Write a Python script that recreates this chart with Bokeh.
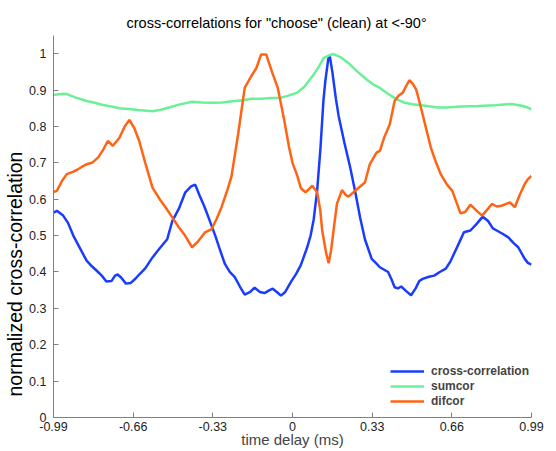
from bokeh.plotting import figure
from bokeh.models import Range1d, FixedTicker, Title
from bokeh.embed import file_html
from bokeh.resources import INLINE

# ---- data -------------------------------------------------------------
x_ticks = [-0.99, -0.66, -0.33, 0, 0.33, 0.66, 0.99]
x_tick_labels = ["-0.99", "-0.66", "-0.33", "0", "0.33", "0.66", "0.99"]
y_ticks = [0, 0.1, 0.2, 0.3, 0.4, 0.5, 0.6, 0.7, 0.8, 0.9, 1.0]
y_tick_labels = ["0", "0.1", "0.2", "0.3", "0.4", "0.5", "0.6", "0.7", "0.8", "0.9", "1"]

xcorr_t = [-0.99, -0.976, -0.95, -0.93, -0.908, -0.88, -0.853, -0.83, -0.812, -0.79,
           -0.771, -0.75, -0.735, -0.724, -0.71, -0.69, -0.67, -0.65, -0.635, -0.61,
           -0.58, -0.55, -0.519, -0.498, -0.47, -0.444, -0.42, -0.403, -0.385, -0.365,
           -0.348, -0.32, -0.30, -0.28, -0.26, -0.239, -0.218, -0.198, -0.175, -0.157,
           -0.135, -0.116, -0.095, -0.082, -0.065, -0.048, -0.03, -0.007, 0.015, 0.034,
           0.061, 0.075, 0.088, 0.102, 0.116, 0.128, 0.136, 0.148, 0.154, 0.165,
           0.18, 0.191, 0.215, 0.239, 0.26, 0.28, 0.30, 0.328, 0.345, 0.362,
           0.396, 0.41, 0.423, 0.437, 0.45, 0.47, 0.491, 0.51, 0.525, 0.539,
           0.565, 0.587, 0.61, 0.635, 0.655, 0.669, 0.69, 0.71, 0.737, 0.76,
           0.788, 0.81, 0.83, 0.846, 0.87, 0.894, 0.915, 0.935, 0.962, 0.975, 0.99]
xcorr_v = [0.563, 0.568, 0.555, 0.535, 0.50, 0.465, 0.431, 0.415, 0.404, 0.39,
           0.374, 0.375, 0.39, 0.393, 0.385, 0.368, 0.37, 0.382, 0.393, 0.41,
           0.44, 0.465, 0.49, 0.54, 0.575, 0.619, 0.635, 0.64, 0.61, 0.58,
           0.55, 0.50, 0.46, 0.422, 0.40, 0.386, 0.36, 0.338, 0.345, 0.357,
           0.345, 0.342, 0.35, 0.354, 0.345, 0.335, 0.345, 0.372, 0.395, 0.418,
           0.468, 0.50, 0.545, 0.623, 0.742, 0.87, 0.925, 0.985, 0.995, 0.95,
           0.875, 0.829, 0.755, 0.687, 0.62, 0.55, 0.49, 0.436, 0.425, 0.413,
           0.40, 0.38, 0.358, 0.355, 0.36, 0.348, 0.336, 0.355, 0.375, 0.381,
           0.387, 0.39, 0.40, 0.409, 0.43, 0.45, 0.48, 0.509, 0.514, 0.53,
           0.552, 0.54, 0.52, 0.514, 0.505, 0.495, 0.48, 0.468, 0.436, 0.425, 0.42]

sumcor_t = [-0.99, -0.976, -0.95, -0.935, -0.9, -0.853, -0.82, -0.785, -0.75, -0.717,
            -0.68, -0.64, -0.58, -0.545, -0.512, -0.47, -0.416, -0.375, -0.335, -0.29,
            -0.239, -0.205, -0.171, -0.13, -0.09, -0.048, -0.02, 0.02, 0.05, 0.088,
            0.11, 0.129, 0.15, 0.17, 0.2, 0.239, 0.27, 0.307, 0.335, 0.362,
            0.395, 0.43, 0.46, 0.498, 0.55, 0.6, 0.635, 0.7, 0.771, 0.84,
            0.907, 0.95, 0.975, 0.99]
sumcor_v = [0.887, 0.888, 0.89, 0.889, 0.88, 0.87, 0.865, 0.859, 0.855, 0.85,
            0.848, 0.845, 0.842, 0.846, 0.852, 0.86, 0.868, 0.866, 0.865, 0.866,
            0.87, 0.872, 0.876, 0.876, 0.878, 0.879, 0.884, 0.893, 0.91, 0.943,
            0.965, 0.988, 0.995, 0.999, 0.99, 0.97, 0.95, 0.929, 0.915, 0.906,
            0.89, 0.875, 0.866, 0.861, 0.857, 0.852, 0.852, 0.855, 0.856, 0.858,
            0.862, 0.857, 0.852, 0.847]

difcor_t = [-0.99, -0.976, -0.955, -0.935, -0.91, -0.887, -0.87, -0.853, -0.83, -0.805,
            -0.785, -0.765, -0.744, -0.717, -0.695, -0.676, -0.655, -0.635, -0.61, -0.58,
            -0.55, -0.526, -0.498, -0.471, -0.445, -0.416, -0.39, -0.362, -0.335, -0.315,
            -0.294, -0.27, -0.253, -0.225, -0.198, -0.171, -0.15, -0.13, -0.109, -0.085,
            -0.061, -0.035, -0.014, 0.0, 0.02, 0.035, 0.054, 0.068, 0.082, 0.102,
            0.115, 0.123, 0.14, 0.15, 0.16, 0.17, 0.184, 0.205, 0.22, 0.232,
            0.259, 0.28, 0.30, 0.32, 0.348, 0.362, 0.38, 0.403, 0.423, 0.44,
            0.457, 0.47, 0.484, 0.498, 0.512, 0.525, 0.539, 0.555, 0.573, 0.595,
            0.614, 0.64, 0.662, 0.68, 0.696, 0.715, 0.737, 0.76, 0.785, 0.805,
            0.826, 0.846, 0.866, 0.885, 0.901, 0.921, 0.94, 0.962, 0.975, 0.99]
difcor_v = [0.62, 0.623, 0.65, 0.669, 0.675, 0.683, 0.69, 0.696, 0.70, 0.715,
            0.735, 0.76, 0.747, 0.769, 0.80, 0.818, 0.795, 0.76, 0.70, 0.632,
            0.60, 0.578, 0.55, 0.523, 0.50, 0.468, 0.485, 0.509, 0.518, 0.545,
            0.578, 0.625, 0.662, 0.78, 0.906, 0.938, 0.96, 0.998, 0.998, 0.95,
            0.906, 0.82, 0.742, 0.70, 0.664, 0.63, 0.619, 0.628, 0.637, 0.619,
            0.57, 0.514, 0.45, 0.424, 0.46, 0.514, 0.587, 0.625, 0.612, 0.607,
            0.623, 0.635, 0.646, 0.696, 0.728, 0.733, 0.77, 0.806, 0.87, 0.885,
            0.893, 0.91, 0.927, 0.918, 0.902, 0.87, 0.833, 0.79, 0.742, 0.70,
            0.669, 0.64, 0.623, 0.59, 0.561, 0.565, 0.585, 0.57, 0.555, 0.57,
            0.587, 0.58, 0.582, 0.587, 0.591, 0.578, 0.61, 0.642, 0.655, 0.664]

FONT = "Liberation Sans"
AXIS_GREY = "#808080"

# ---- figure -----------------------------------------------------------
p = figure(width=556, height=451, output_backend="svg", toolbar_location=None,
           x_range=Range1d(-0.99, 0.99), y_range=Range1d(0, 1.05),
           min_border_left=53, min_border_right=25, min_border_top=35,
           min_border_bottom=34)
p.outline_line_color = None
p.grid.visible = False
p.background_fill_color = "white"
p.border_fill_color = "white"

p.title.text = 'cross-correlations for "choose" (clean) at <-90\u00b0'
p.title.text_font = FONT
p.title.text_font_size = "14.5px"
p.title.text_font_style = "normal"
p.title.text_color = "black"
p.title.align = "left"
p.title.offset = 73

p.line(xcorr_t, xcorr_v, line_color="#1a3cff", line_width=2.5,
       legend_label="cross-correlation")
p.line(sumcor_t, sumcor_v, line_color="#6af096", line_width=2.5,
       legend_label="sumcor")
p.line(difcor_t, difcor_v, line_color="#ff6414", line_width=2.5,
       legend_label="difcor")

# axes
for ax in (p.xaxis[0], p.yaxis[0]):
    ax.axis_line_color = AXIS_GREY
    ax.major_tick_line_color = AXIS_GREY
    ax.major_tick_in = 5
    ax.major_tick_out = 0
    ax.minor_tick_line_color = None
    ax.major_label_text_font = FONT
    ax.major_label_text_font_size = "12.5px"
    ax.major_label_text_color = "#222222"

p.xaxis.ticker = FixedTicker(ticks=x_ticks)
p.xaxis.major_label_overrides = dict(zip(x_ticks, x_tick_labels))
p.xaxis.major_label_standoff = 4
p.xaxis.axis_label = "time delay (ms)"
p.xaxis.axis_label_text_font = FONT
p.xaxis.axis_label_text_font_size = "15px"
p.xaxis.axis_label_text_font_style = "normal"
p.xaxis.axis_label_standoff = -3

p.yaxis.ticker = FixedTicker(ticks=y_ticks)
p.yaxis.major_label_overrides = dict(zip(y_ticks, y_tick_labels))
p.yaxis.major_label_standoff = 7

# vertical axis title, in its own panel to the left of the y axis
p.add_layout(Title(text="normalized cross-correlation", align="left", offset=21,
                   text_font=FONT, text_font_size="19.5px", text_font_style="normal",
                   text_color="black", standoff=2), "left")

# legend
lg = p.legend[0]
lg.location = (337, 9)
lg.label_text_font = FONT
lg.label_text_font_size = "12px"
lg.label_text_font_style = "bold"
lg.glyph_width = 34
lg.glyph_height = 14
lg.label_height = 14
lg.label_standoff = 7
lg.spacing = 1
lg.padding = 0
lg.margin = 0
lg.border_line_color = None
lg.background_fill_alpha = 0

open("out.html", "w").write(file_html(p, INLINE))
